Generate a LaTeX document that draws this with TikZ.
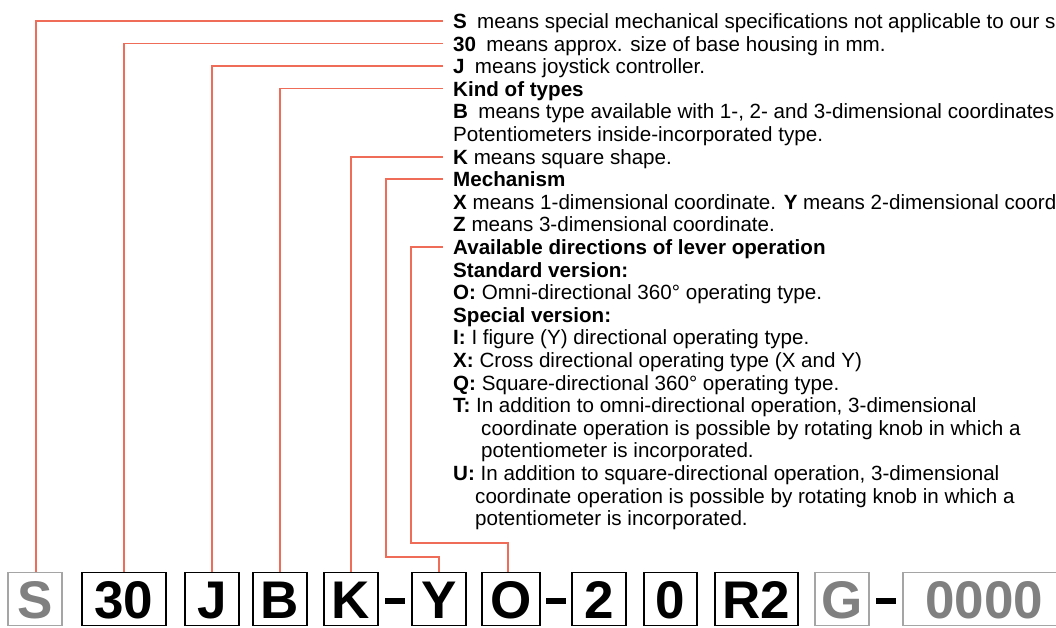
\documentclass[tikz,border=0pt]{standalone}
\usepackage{fontspec}
\setmainfont{Liberation Sans}
\definecolor{leadc}{RGB}{238,108,88}
\definecolor{boxgrey}{RGB}{165,165,165}
\definecolor{textgrey}{RGB}{128,128,128}
\begin{document}
\begin{tikzpicture}[x=1pt,y=-1pt,
  lead/.style={draw=leadc, line width=1.1pt},
  desc/.style={anchor=base west, inner sep=0pt, font=\fontsize{20.6}{22}\selectfont},
  codebox/.style={draw=black, line width=1.2pt, minimum width=#1, minimum height=53pt,
    inner sep=0pt, text height=38.5pt, text depth=0pt,
    font=\bfseries\fontsize{53}{53}\selectfont, text=black},
  greybox/.style={codebox=#1, draw=boxgrey, text=textgrey},
  dashbar/.style={fill=black, draw=none, minimum width=20pt, minimum height=6pt, inner sep=0pt}]
\useasboundingbox (0,0) rectangle (1056,627);
\clip (0,0) rectangle (1056,627);

% description lines
\node[desc] (d1)  at (453,28.5)  {\textbf{S}\hspace{0.5em}means special mechanical specifications not applicable to our s};
\node[desc] (d2)  at (453,51.1)  {\textbf{30}\hspace{0.5em}means approx. size of base housing in mm.};
\node[desc] (d3)  at (453,73.7)  {\textbf{J}\hspace{0.5em}means joystick controller.};
\node[desc] (d4)  at (453,96.3)  {\textbf{Kind of types}};
\node[desc] (d5)  at (453,118.9) {\textbf{B}\hspace{0.5em}means type available with 1-, 2- and 3-dimensional coordinates};
\node[desc] (d6)  at (453,141.5) {Potentiometers inside-incorporated type.};
\node[desc] (d7)  at (453,164.1) {\textbf{K} means square shape.};
\node[desc] (d8)  at (453,186.7) {\textbf{Mechanism}};
\node[desc] (d9)  at (453,209.3) {\textbf{X} means 1-dimensional coordinate. \textbf{Y} means 2-dimensional coord};
\node[desc] (d10) at (453,231.9) {\textbf{Z} means 3-dimensional coordinate.};
\node[desc] (d11) at (453,254.5) {\textbf{Available directions of lever operation}};
\node[desc] (d12) at (453,277.1) {\textbf{Standard version:}};
\node[desc] (d13) at (453,299.7) {\textbf{O:} Omni-directional 360° operating type.};
\node[desc] (d14) at (453,322.3) {\textbf{Special version:}};
\node[desc] (d15) at (453,344.9) {\textbf{I:} I figure (Y) directional operating type.};
\node[desc] (d16) at (453,367.5) {\textbf{X:} Cross directional operating type (X and Y)};
\node[desc] (d17) at (453,390.1) {\textbf{Q:} Square-directional 360° operating type.};
\node[desc] (d18) at (453,412.7) {\textbf{T:} In addition to omni-directional operation, 3-dimensional};
\node[desc] (d19) at (481,435.3) {coordinate operation is possible by rotating knob in which a};
\node[desc] (d20) at (481,457.9) {potentiometer is incorporated.};
\node[desc] (d21) at (453,480.5) {\textbf{U:} In addition to square-directional operation, 3-dimensional};
\node[desc] (d22) at (475,503.1) {coordinate operation is possible by rotating knob in which a};
\node[desc] (d23) at (475,525.7) {potentiometer is incorporated.};

% code boxes
\node[greybox=54pt] (bS)  at (35,599)    {S};
\node[codebox=84pt] (b30) at (124,599)   {30};
\node[codebox=54pt] (bJ)  at (212,599)   {J};
\node[codebox=54pt] (bB)  at (280,599)   {B};
\node[codebox=54pt] (bK)  at (351,599)   {K};
\node[dashbar]      (h1)  at (395,601)   {};
\node[codebox=54pt] (bY)  at (439,599)   {Y};
\node[codebox=58pt] (bO)  at (511,599)   {O};
\node[dashbar]      (h2)  at (556,601)   {};
\node[codebox=54pt] (b2)  at (599,599)   {2};
\node[codebox=53pt] (b0)  at (670.5,599) {0};
\node[codebox=83pt] (bR)  at (756.5,599) {R2};
\node[greybox=54pt] (bG)  at (842,599)   {G};
\node[dashbar]      (h3)  at (886,601)   {};
\node[greybox=162pt] (bN) at (984,599) {0000\hspace{12pt}};

% leader start points
\coordinate (tS) at (443,21);
\coordinate (t30) at (443,43.5);
\coordinate (tJ) at (443,66);
\coordinate (tB) at (443,88.7);
\coordinate (tK) at (443,157);
\coordinate (tY) at (443,179);
\coordinate (tO) at (443,247);

\draw[lead] (tS) -| ([xshift=1pt]bS.north);
\draw[lead] (t30) -| (b30.north);
\draw[lead] (tJ) -| (bJ.north);
\draw[lead] (tB) -| (bB.north);
\draw[lead] (tK) -| (bK.north);
\draw[lead] (tY) -| (386,557) -| (bY.north);
\draw[lead] (tO) -| (411,543) -| ([xshift=-3pt]bO.north);
\end{tikzpicture}
\end{document}
